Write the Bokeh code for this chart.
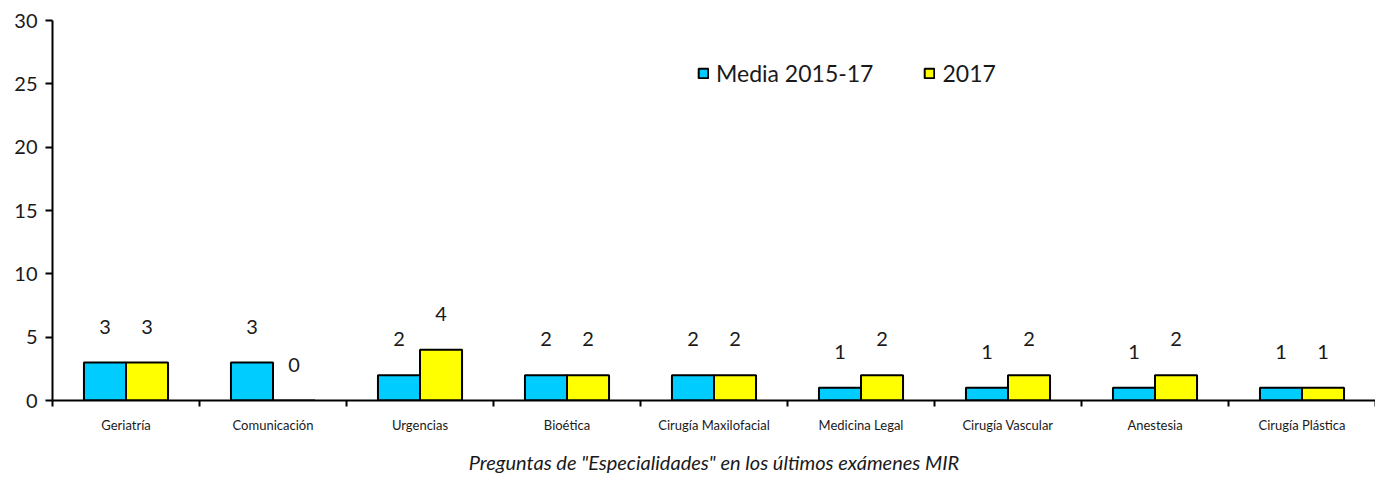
from bokeh.plotting import figure
from bokeh.models import Range1d, FixedTicker, ColumnDataSource, Legend, LegendItem
from bokeh.core.properties import value
from bokeh.embed import file_html
from bokeh.resources import INLINE

categories = ["Geriatría", "Comunicación", "Urgencias", "Bioética", "Cirugía Maxilofacial",
              "Medicina Legal", "Cirugía Vascular", "Anestesia", "Cirugía Plástica"]
media_2015_17 = [3, 3, 2, 2, 2, 1, 1, 1, 1]
y2017 = [3, 0, 4, 2, 2, 2, 2, 2, 1]
series_names = ["Media 2015-17", "2017"]
y_ticks = [0, 5, 10, 15, 20, 25, 30]

FONT = "Lato"
BW = 0.286

centers = [i + 0.5 for i in range(len(categories))]
src_a = ColumnDataSource(dict(x=[c - BW / 2 for c in centers], top=media_2015_17,
                              lab=[str(v) for v in media_2015_17]))
src_b = ColumnDataSource(dict(x=[c + BW / 2 for c in centers], top=y2017,
                              lab=[str(v) for v in y2017]))

p = figure(width=1375, height=479, output_backend="svg", toolbar_location=None,
           x_range=Range1d(0, len(categories)), y_range=Range1d(0, 30),
           min_border_left=52, min_border_right=0, min_border_top=20, min_border_bottom=79)
p.outline_line_color = None
p.grid.visible = False
p.background_fill_color = "white"

ra = p.vbar(x="x", top="top", width=BW, bottom=0, source=src_a,
            fill_color="#00CCFF", line_color="black", line_width=2)
rb = p.vbar(x="x", top="top", width=BW, bottom=0, source=src_b,
            fill_color="#FFFF00", line_color="black", line_width=2)

for s in (src_a, src_b):
    p.text(x="x", y="top", text="lab", source=s, y_offset=-36,
           text_align="center", text_baseline="middle",
           text_font=value(FONT), text_font_size="20px", text_color="#1a1a1a")

# x axis
xa = p.xaxis[0]
xa.ticker = FixedTicker(ticks=centers, minor_ticks=list(range(0, len(categories) + 1)))
xa.major_label_overrides = {c: n for c, n in zip(centers, categories)}
xa.major_tick_out = 0
xa.major_tick_in = 0
xa.minor_tick_out = 6
xa.minor_tick_in = 0
xa.minor_tick_line_color = "black"
xa.minor_tick_line_width = 2
xa.axis_line_width = 2
xa.axis_line_color = "black"
xa.major_label_text_font = FONT
xa.major_label_text_font_size = "13px"
xa.major_label_text_color = "#1a1a1a"
xa.major_label_standoff = 10
xa.axis_label = 'Preguntas de "Especialidades" en los últimos exámenes MIR'
xa.axis_label_text_font = FONT
xa.axis_label_text_font_style = "italic"
xa.axis_label_text_font_size = "20px"
xa.axis_label_text_color = "#1a1a1a"
xa.axis_label_standoff = 14

# y axis
ya = p.yaxis[0]
ya.ticker = FixedTicker(ticks=y_ticks)
ya.minor_tick_line_color = None
ya.major_tick_out = 7
ya.major_tick_in = 0
ya.major_tick_line_width = 2
ya.axis_line_width = 2
ya.axis_line_color = "black"
ya.major_label_text_font = FONT
ya.major_label_text_font_size = "20px"
ya.major_label_text_color = "#1a1a1a"
ya.major_label_standoff = 8

legend = Legend(items=[LegendItem(label=series_names[0], renderers=[ra]),
                       LegendItem(label=series_names[1], renderers=[rb])],
                orientation="horizontal", location=(645, 313),
                label_text_font=FONT, label_text_font_size="23px", label_text_color="#1a1a1a",
                glyph_width=12, glyph_height=12, spacing=50, label_standoff=7,
                border_line_color=None, background_fill_alpha=0, padding=4, margin=0)
p.add_layout(legend, "center")

open("out.html", "w").write(file_html(p, INLINE))
